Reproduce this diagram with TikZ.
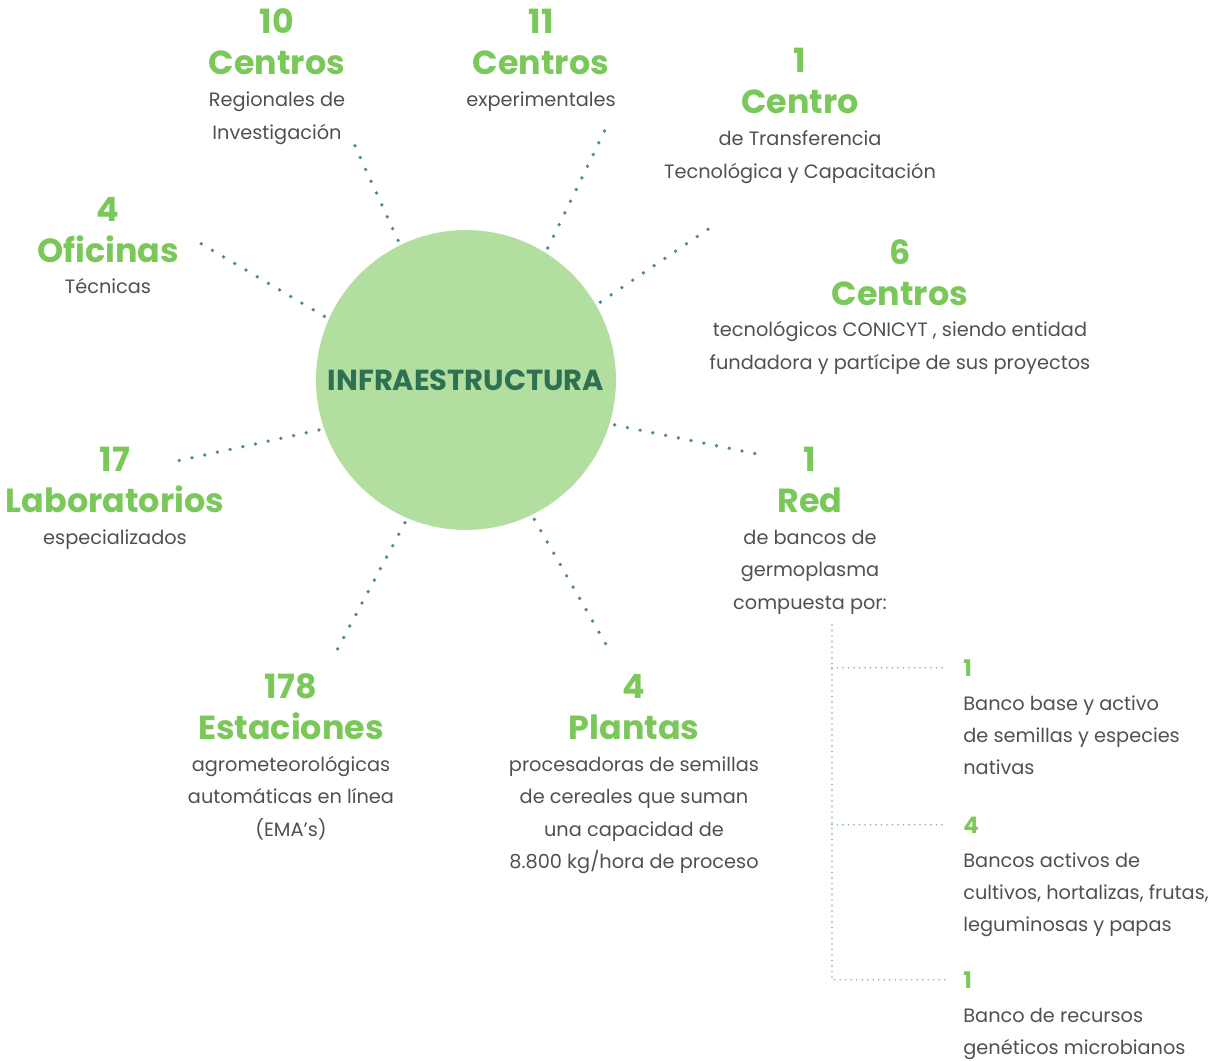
\documentclass[tikz,border=0pt]{standalone}
\usepackage{fontspec}
\setmainfont{Poppins}
\definecolor{hgreen}{RGB}{122,200,90}
\definecolor{bgray}{RGB}{80,80,80}
\definecolor{cfill}{RGB}{178,222,160}
\definecolor{cdark}{RGB}{46,112,82}
\definecolor{dotc}{RGB}{78,140,132}
\definecolor{tdotc}{RGB}{130,178,172}
\newcommand\grp[6]{%
  \node[head] (#1n) at (#2,#3) {#4};
  \node[head] (#1w) at (#2,{#3+41}) {#5};
  \foreach \t [count=\i] in {#6} {\node[body] (#1b\i) at (#2,{#3+73+32.5*(\i-1)}) {\t};}
}
\newcommand\tgrp[5]{%
  \node[tnum] (#1n) at (#2,#3) {#4};
  \foreach \t [count=\i] in {#5} {\node[body,anchor=base west] (#1b\i) at (#2,{#3+34+32*(\i-1)}) {\t};}
}
\begin{document}
\begin{tikzpicture}[x=0.02cm,y=-0.02cm,
  head/.style={text=hgreen, font=\fontsize{19}{23}\selectfont\bfseries, inner sep=0, anchor=base},
  body/.style={text=bgray, font=\fontsize{11}{13}\selectfont, inner sep=0, anchor=base},
  tnum/.style={text=hgreen, font=\fontsize{13}{15}\selectfont\bfseries, inner sep=0, anchor=base west},
  dots/.style={draw=dotc, line width=0.075cm, line cap=round, dash pattern=on 0pt off 0.26cm, shorten <=0.1cm},
  tdots/.style={draw=tdotc, line width=0.035cm, line cap=round, dash pattern=on 0pt off 0.11cm},
  hub/.style={circle, fill=cfill, minimum size=6cm, inner sep=0, text=cdark, font=\fontsize{16.5}{19}\selectfont\bfseries}]
\useasboundingbox (0,0) rectangle (1225,1061);

\node[hub] (c) at (466,380) {INFRAESTRUCTURA};

\grp{reg}{277}{34}{10}{Centros}{Regionales de,Investigación}
\grp{exp}{541}{34}{11}{Centros}{experimentales}
\grp{ctt}{800}{73}{1}{Centro}{de Transferencia,Tecnológica y Capacitación}
\grp{con}{900}{264}{6}{Centros}{tecnológicos CONICYT {,} siendo entidad,fundadora y partícipe de sus proyectos}
\grp{ofi}{108}{221}{4}{Oficinas}{Técnicas}
\grp{lab}{115}{471}{17}{Laboratorios}{especializados}
\grp{est}{291}{698}{178}{Estaciones}{agrometeorológicas,automáticas en línea,(EMA’s)}
\grp{pla}{634}{698}{4}{Plantas}{procesadoras de semillas,de cereales que suman,una capacidad de,8.800 kg/hora de proceso}
\grp{red}{810}{471}{1}{Red}{de bancos de,germoplasma,compuesta por:}

\tgrp{ta}{963}{676}{1}{Banco base y activo,de semillas y especies,nativas}
\tgrp{tb}{963}{833}{4}{Bancos activos de,{cultivos, hortalizas, frutas,},leguminosas y papas}
\tgrp{tc}{963}{988}{1}{Banco de recursos,genéticos microbianos}

\coordinate (e1) at (200,243);
\coordinate (e2) at (350,135);
\coordinate (e3) at (606,128);
\coordinate (e4) at (710,228);
\coordinate (e5) at (762,455);
\coordinate (e6) at (608,648);
\coordinate (e7) at (337,650);
\coordinate (e8) at (168,463);
\draw[dots] (c.156.8) -- (e1);
\draw[dots] (c.116.4) -- (e2);
\draw[dots] (c.58.6) -- (e3);
\draw[dots] (c.30.3) -- (e4);
\draw[dots] (c.-17.4) -- (e5);
\draw[dots] (c.-64.4) -- (e6);
\draw[dots] (c.-113.2) -- (e7);
\draw[dots] (c.199.6) -- (e8);

\coordinate (tv) at (832,625);
\draw[tdots] (tv) |- ([xshift=-0.36cm]tcn.west);
\draw[tdots] (tan.west -| tv) -- ([xshift=-0.36cm]tan.west);
\draw[tdots] (tbn.west -| tv) -- ([xshift=-0.36cm]tbn.west);
\end{tikzpicture}
\end{document}
